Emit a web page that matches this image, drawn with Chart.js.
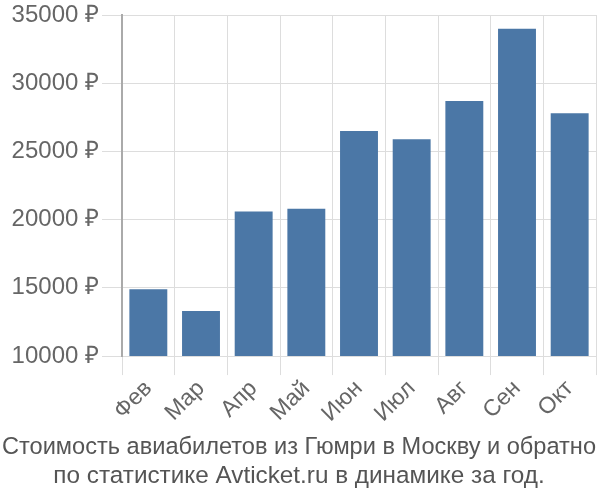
<!DOCTYPE html>
<html>
<head>
<meta charset="utf-8">
<script src="https://cdn.jsdelivr.net/npm/chart.js@4/dist/chart.umd.min.js"></script>
<style>
  body { margin: 0; background: #fff; }
  #wrap { width: 600px; height: 500px; }
</style>
</head>
<body>
<div id="wrap"><canvas id="bars" width="600" height="500"></canvas></div>
<script>
let months = ['Фев', 'Мар', 'Апр', 'Май', 'Июн', 'Июл', 'Авг', 'Сен', 'Окт']
let prices = [14900, 13300, 20600, 20800, 26500, 25900, 28700, 34000, 27800]
let titleLines = ['Стоимость авиабилетов из Гюмри в Москву и обратно', 'по статистике Avticket.ru в динамике за год.']

const ctx = document.getElementById('bars').getContext('2d')
const chart = new Chart(ctx, {
    type: 'bar',
    data: {
        labels: months,
        datasets: [{
            data: prices,
            backgroundColor: '#4b77a6',
            borderWidth: 0,
            barPercentage: 0.72,
            categoryPercentage: 1
        }]
    },
    options: {
        responsive: false,
        animation: false,
        layout: { padding: { top: 0, right: 4, left: 2, bottom: 0 } },
        plugins: {
            legend: { display: false },
            tooltip: { enabled: false },
            title: {
                display: true,
                position: 'bottom',
                text: titleLines,
                color: '#555',
                font: { family: 'Liberation Sans', size: 24.3, weight: 'normal', lineHeight: 1.16 },
                padding: { top: 6, bottom: 10 }
            }
        },
        scales: {
            x: {
                grid: { color: '#dddddd', offset: true, tickLength: 19 },
                border: { color: '#dddddd' },
                ticks: {
                    color: '#666',
                    font: { family: 'Liberation Sans', size: 23 },
                    maxRotation: 45,
                    minRotation: 45,
                    autoSkip: false,
                    padding: 0
                }
            },
            y: {
                min: 10000,
                max: 35000,
                afterFit: s => { s.width = 120; s.paddingTop = 15 },
                grid: { color: '#dddddd', tickLength: 20 },
                border: { color: '#aaaaaa', width: 2 },
                ticks: {
                    stepSize: 5000,
                    color: '#666',
                    font: { family: 'Liberation Sans', size: 24 },
                    padding: 3,
                    callback: v => v + ' ₽'
                }
            }
        }
    }
})
</script>
</body>
</html>
